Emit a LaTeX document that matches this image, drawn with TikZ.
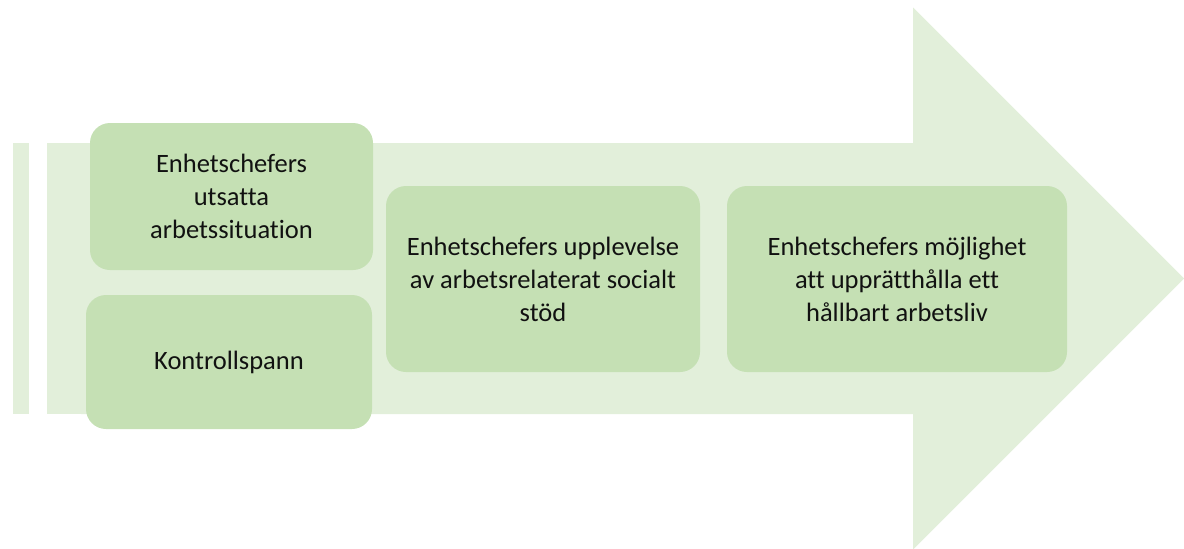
\documentclass[tikz,border=0pt]{standalone}
\usepackage{fontspec}
\setmainfont[Ligatures=NoCommon]{Carlito}
\definecolor{arrowgreen}{HTML}{E2EFDA}
\definecolor{boxgreen}{HTML}{C5E0B4}
\definecolor{txt}{HTML}{111111}
\tikzset{
  greenbox/.style={fill=boxgreen, draw=none, rounded corners=20pt, text=txt,
    align=center, font=\fontsize{26.5}{33}\selectfont, inner sep=0pt},
}
\begin{document}
\begin{tikzpicture}[x=1pt,y=-1pt]
\useasboundingbox (0,0) rectangle (1184,549);
% stripes
\fill[arrowgreen] (13,143) rectangle (29,414);
\fill[arrowgreen] (47,143) rectangle (81,414);
% arrow
\fill[arrowgreen] (81,143) -- (913,143) -- (913,7.5) -- (1184,278.5) -- (913,549.5) -- (913,414) -- (81,414) -- cycle;
% boxes
\node[greenbox, minimum width=283pt, minimum height=147pt] (b1) at (231.5,196.5) {Enhetschefers\\utsatta\\arbetssituation};
\node[greenbox, minimum width=286pt, minimum height=134pt] (b2) at (229,362) {Kontrollspann};
\node[greenbox, minimum width=314pt, minimum height=186pt] (b3) at (543,279) {Enhetschefers upplevelse\\av arbetsrelaterat socialt\\stöd};
\node[greenbox, minimum width=340pt, minimum height=186pt] (b4) at (897,279) {Enhetschefers möjlighet\\att upprätthålla ett\\hållbart arbetsliv};
\end{tikzpicture}
\end{document}
